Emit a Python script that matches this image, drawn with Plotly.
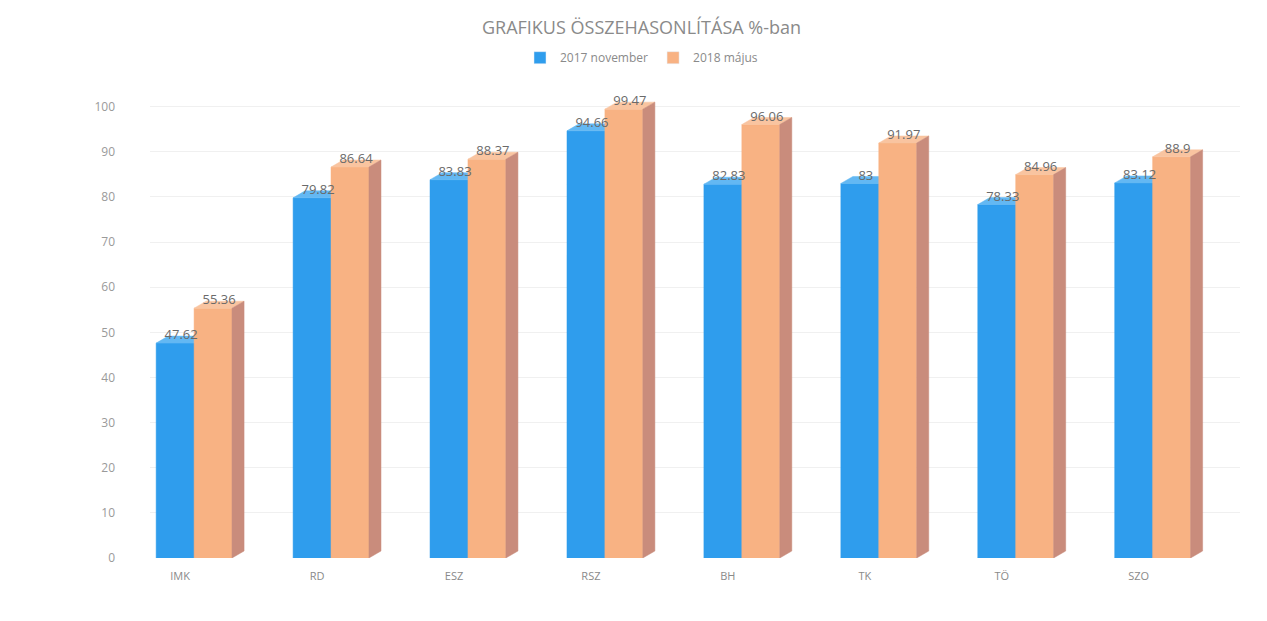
import plotly.graph_objects as go

categories = ["IMK", "RD", "ESZ", "RSZ", "BH", "TK", "TÖ", "SZO"]
nov2017 = [47.62, 79.82, 83.83, 94.66, 82.83, 83, 78.33, 83.12]
maj2018 = [55.36, 86.64, 88.37, 99.47, 96.06, 91.97, 84.96, 88.9]
series_names = ["2017 november", "2018 május"]
yticks = [0, 10, 20, 30, 40, 50, 60, 70, 80, 90, 100]

# geometry (in data units)
W = 0.277          # bar width
B0 = -0.175        # blue bar left offset from category center
DX = 0.088         # depth offset x
DY = 1.55          # depth offset y

BLUE_FRONT = "#2f9ded"
BLUE_TOP = "#63b8f3"
BLUE_SIDE = "#1f6fb0"
OR_FRONT = "#f8b283"
OR_TOP = "#f9c4a0"
OR_SIDE = "#c98c7c"


def poly(points_list):
    xs, ys = [], []
    for pts in points_list:
        for (x, y) in pts:
            xs.append(x)
            ys.append(y)
        xs.append(pts[0][0])
        ys.append(pts[0][1])
        xs.append(None)
        ys.append(None)
    return xs, ys


def faces(values, off):
    fronts, tops, sides = [], [], []
    for i, v in enumerate(values):
        x0 = i + off
        x1 = x0 + W
        fronts.append([(x0, 0), (x1, 0), (x1, v), (x0, v)])
        tops.append([(x0, v), (x1, v), (x1 + DX, v + DY), (x0 + DX, v + DY)])
        sides.append([(x1, 0), (x1 + DX, DY), (x1 + DX, v + DY), (x1, v)])
    return fronts, tops, sides


fig = go.Figure()

bf, bt, bs = faces(nov2017, B0)
of, ot, osd = faces(maj2018, B0 + W)

layers = [
    (bs, BLUE_SIDE), (bf, BLUE_FRONT), (bt, BLUE_TOP),
    (of, OR_FRONT), (ot, OR_TOP), (osd, OR_SIDE),
]
for pts, col in layers:
    xs, ys = poly(pts)
    fig.add_trace(go.Scatter(x=xs, y=ys, mode="lines", fill="toself",
                             fillcolor=col, line=dict(width=0.5, color=col),
                             hoverinfo="skip", showlegend=False))

# data labels
for vals, off in [(nov2017, B0), (maj2018, B0 + W)]:
    fig.add_trace(go.Scatter(
        x=[i + off + W / 2 + DX / 2 for i in range(len(vals))],
        y=[v + DY for v in vals],
        mode="text",
        text=[f"{v:g}" for v in vals],
        textposition="middle center",
        textfont=dict(size=13, color="#6a6a6a", family="Open Sans"),
        showlegend=False, hoverinfo="skip"))

# legend entries
for name, col in zip(series_names, [BLUE_FRONT, OR_FRONT]):
    fig.add_trace(go.Bar(x=[None], y=[None], name=name, marker_color=col))

fig.update_layout(
    width=1267, height=621,
    paper_bgcolor="white", plot_bgcolor="white",
    margin=dict(l=142, r=35, t=73, b=71),
    title=dict(text="GRAFIKUS ÖSSZEHASONLÍTÁSA %-ban", x=0.5, xanchor="center",
               y=0.968, yanchor="middle",
               font=dict(size=18, color="#8a8a8a", family="Open Sans")),
    legend=dict(orientation="h", xref="container", yref="container",
                x=0.5, xanchor="center", y=0.92, yanchor="middle",
                font=dict(size=12, color="#8a8a8a", family="Open Sans"),
                itemwidth=30),
    font=dict(family="Open Sans", color="#9a9a9a"),
    xaxis=dict(range=[-0.22, 7.74], tickmode="array",
               tickvals=list(range(len(categories))), ticktext=categories,
               showgrid=False, zeroline=False, showline=False,
               ticklabelstandoff=10,
               tickfont=dict(size=11, color="#8a8a8a")),
    yaxis=dict(range=[0, 105], tickmode="array", tickvals=yticks,
               showgrid=True, gridcolor="#f0f0f0", gridwidth=1,
               zeroline=False, showline=False,
               ticklabelstandoff=34,
               tickfont=dict(size=12, color="#9a9a9a")),
)

fig.write_html("out.html")
